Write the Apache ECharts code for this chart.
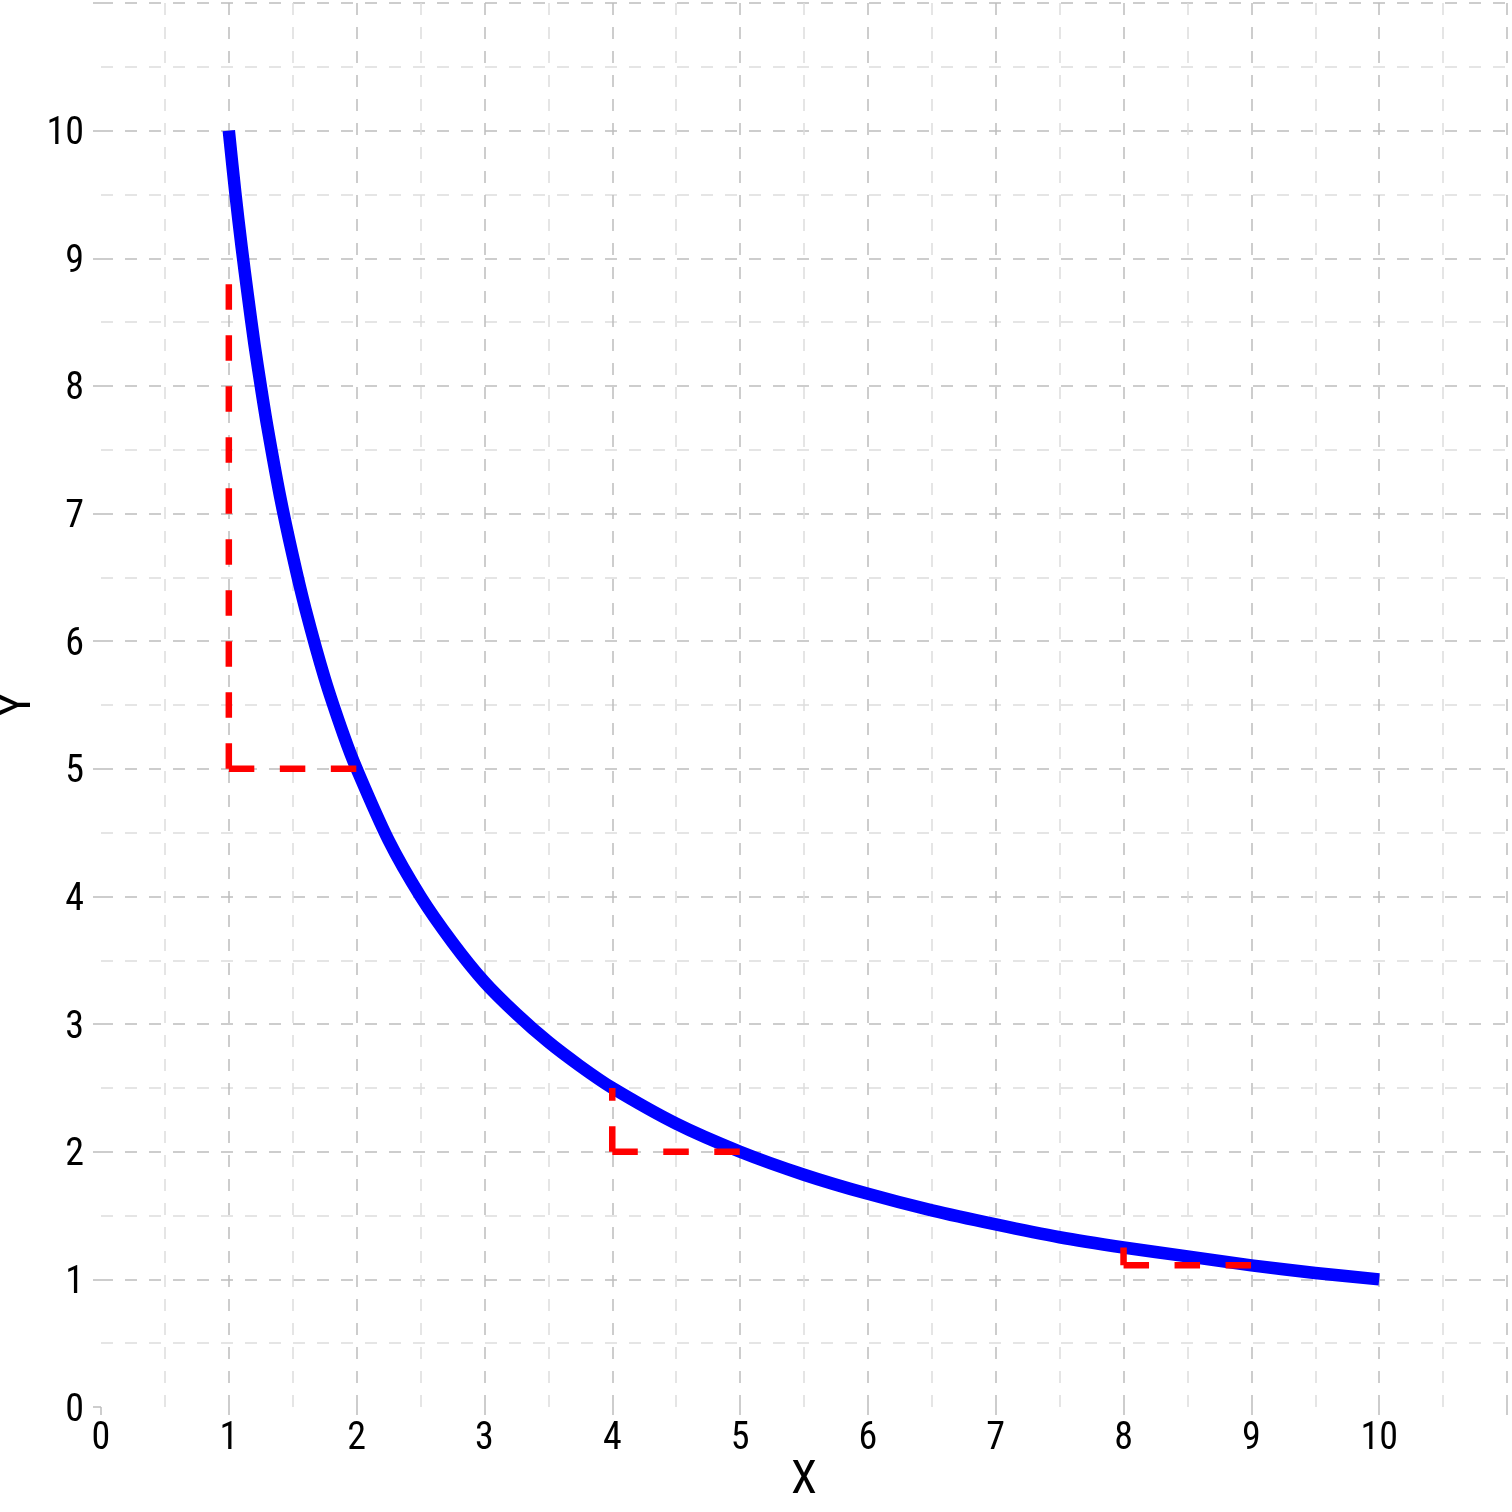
<!DOCTYPE html>
<html>
<head>
<meta charset="utf-8">
<script src="https://cdn.jsdelivr.net/npm/echarts@6/dist/echarts.min.js"></script>
<style>
html,body{margin:0;padding:0;background:#fff;}
#chart{width:1512px;height:1512px;}
</style>
</head>
<body>
<div id="chart"></div>
<script>
// Curve y = 10/x
const curveX = [1, 1.05, 1.1, 1.15, 1.2, 1.25, 1.3, 1.4, 1.5, 1.6, 1.75, 1.9, 2, 2.25, 2.5, 2.75, 3, 3.25, 3.5, 3.75, 4, 4.5, 5, 5.5, 6, 6.5, 7, 7.5, 8, 8.5, 9, 9.5, 10];
const curveY = [10, 9.52, 9.09, 8.70, 8.33, 8, 7.69, 7.14, 6.67, 6.25, 5.71, 5.26, 5, 4.44, 4, 3.64, 3.33, 3.08, 2.86, 2.67, 2.5, 2.22, 2, 1.82, 1.67, 1.54, 1.43, 1.33, 1.25, 1.18, 1.11, 1.05, 1];

// Red dashed steps: corner at (stepX, stepBottom), up to stepTop, right to stepRight
const stepX = [1, 4, 8];
const stepTop = [8.8, 2.5, 1.25];
const stepBottom = [5, 2, 1.11];
const stepRight = [2, 5, 9];

const xTicks = [0, 1, 2, 3, 4, 5, 6, 7, 8, 9, 10];
const yTicks = [0, 1, 2, 3, 4, 5, 6, 7, 8, 9, 10];

const FONT = '"Liberation Sans Narrow", "Roboto Condensed", "DejaVu Sans Condensed", sans-serif';
const MAJOR = '#bdbdbd';
const MINOR = '#dddddd';

const series = [{
  type: 'line',
  data: curveX.map((x, i) => [x, curveY[i]]),
  smooth: 0.3,
  showSymbol: false,
  lineStyle: { color: '#0000ff', width: 12.5, cap: 'butt', join: 'round' },
  z: 2,
  animation: false
}];
stepX.forEach((x, i) => {
  series.push({
    type: 'line',
    data: [[x, stepBottom[i]], [x, stepTop[i]]],
    showSymbol: false,
    lineStyle: { color: '#ff0000', width: 6.5, type: [25.5, 25.5], cap: 'butt' },
    z: 3, animation: false
  });
  series.push({
    type: 'line',
    data: [[x, stepBottom[i]], [stepRight[i], stepBottom[i]]],
    showSymbol: false,
    lineStyle: { color: '#ff0000', width: 6.5, type: [25.5, 25.5], cap: 'butt' },
    z: 3, animation: false
  });
});

function axisCommon(ticks) {
  return {
    type: 'value',
    min: 0, max: 11, interval: 1,
    axisLine: { show: false },
    axisTick: { show: true, length: 8, lineStyle: { color: MAJOR, width: 1.5 } },
    axisLabel: {
      color: '#000', fontFamily: FONT, fontSize: 38,
      formatter: v => ticks.includes(v) ? '{t|' + v + '}' : '',
      rich: { t: { color: '#000', fontFamily: FONT, fontSize: 38 } }
    },
    splitLine: { show: true, showMinLine: false, lineStyle: { color: MAJOR, width: 1.5, type: [12, 12] } },
    minorTick: { show: false, splitNumber: 2 },
    minorSplitLine: { show: true, lineStyle: { color: MINOR, width: 1.5, type: [12, 12] } },
    nameLocation: 'middle',
    nameMoveOverlap: false,
    nameTextStyle: { color: '#000', fontFamily: FONT, fontSize: 47 }
  };
}

const xAxis = axisCommon(xTicks);
xAxis.name = 'X';
xAxis.nameGap = 51;
xAxis.axisLabel.margin = 13;

const yAxis = axisCommon(yTicks);
yAxis.name = 'Y';
yAxis.nameGap = 59;
yAxis.axisLabel.margin = 17;
yAxis.axisLabel.rich.t.padding = [8, 0, 0, 0];

const chart = echarts.init(document.getElementById('chart'), null, { renderer: 'canvas' });
chart.setOption({
  backgroundColor: '#ffffff',
  animation: false,
  grid: { left: 101, right: 5, top: 3, bottom: 105, containLabel: false, outerBoundsMode: 'none' },
  xAxis: xAxis,
  yAxis: yAxis,
  series: series
});
</script>
</body>
</html>
